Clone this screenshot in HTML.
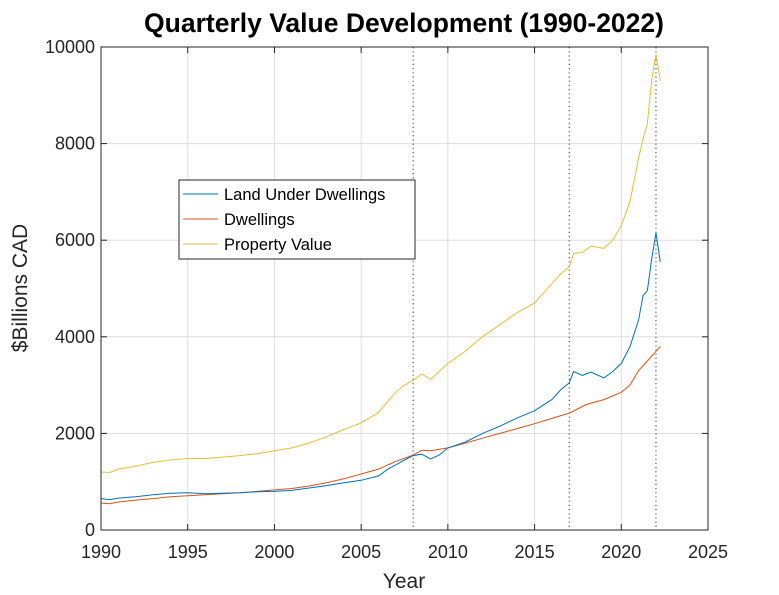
<!DOCTYPE html>
<html><head><meta charset="utf-8"><style>
html,body{margin:0;padding:0;background:#fff;}
svg{display:block;font-family:"Liberation Sans",Arial,sans-serif;}
</style></head><body>
<svg id="chart" width="779" height="595" viewBox="0 0 779 595">
<g id="grid"></g>
<g id="vlines"></g>
<g id="series"></g>
<rect x="101" y="47" width="607" height="483" fill="none" stroke="#262626" stroke-width="1"/>
<g id="ticks"></g>
<text x="404" y="32" text-anchor="middle" font-size="26.5" font-weight="bold" fill="#000">Quarterly Value Development (1990-2022)</text>
<text x="404" y="588" text-anchor="middle" font-size="21" fill="#262626">Year</text>
<text transform="translate(27,288) rotate(-90)" text-anchor="middle" font-size="21" fill="#262626">$Billions CAD</text>
<g>
<rect x="179" y="180" width="236" height="79" fill="#fff" stroke="#262626" stroke-width="1"/>
<line x1="183" y1="194" x2="218" y2="194" stroke="#0072BD"/>
<text x="224" y="200" font-size="16.5" fill="#000">Land Under Dwellings</text>
<line x1="183" y1="219" x2="218" y2="219" stroke="#D95319"/>
<text x="224" y="225" font-size="16.5" fill="#000">Dwellings</text>
<line x1="183" y1="244" x2="218" y2="244" stroke="#E8BE3A"/>
<text x="224" y="250" font-size="16.5" fill="#000">Property Value</text>
</g>
</svg>
<script>
const xTicks=[1990,1995,2000,2005,2010,2015,2020,2025];
const yTicks=[0,2000,4000,6000,8000,10000];
const eventYears=[2008,2017,2022];
const landYears=[1990,1990.5,1991,1992,1993,1994,1995,1996,1997,1998,1999,2000,2001,2002,2003,2004,2005,2006,2006.5,2007,2007.5,2008,2008.5,2009,2009.5,2010,2011,2012,2013,2014,2015,2016,2016.5,2017,2017.25,2017.75,2018.25,2019,2019.5,2020,2020.5,2021,2021.25,2021.5,2021.75,2022,2022.25];
const landValues=[650,630,660,690,730,760,770,750,760,770,790,800,820,870,920,980,1030,1120,1250,1350,1450,1540,1570,1470,1550,1700,1820,2000,2150,2320,2470,2700,2900,3050,3280,3200,3270,3150,3280,3450,3800,4350,4850,4950,5600,6150,5550];
const dwellYears=[1990,1990.5,1991,1992,1993,1994,1995,1996,1997,1998,1999,2000,2001,2002,2003,2004,2005,2006,2007,2008,2008.5,2009,2010,2011,2012,2013,2014,2015,2016,2017,2018,2019,2020,2020.5,2021,2021.5,2022,2022.25];
const dwellValues=[560,545,580,620,650,690,710,730,750,770,800,830,860,910,980,1060,1160,1260,1420,1550,1650,1640,1700,1800,1900,2000,2100,2200,2310,2420,2600,2700,2850,3000,3300,3500,3700,3800];
const propYears=landYears;
const propValues=[1200,1190,1260,1320,1400,1450,1480,1480,1510,1540,1580,1640,1700,1800,1930,2080,2220,2430,2650,2850,3000,3100,3230,3120,3280,3450,3700,4000,4250,4500,4700,5100,5300,5450,5730,5750,5880,5830,6000,6300,6800,7700,8100,8400,9300,9850,9300];
const NS="http://www.w3.org/2000/svg";
const X0=101,X1=708,Y0=530,Y1=47;
const sx=v=>X0+(v-1990)/(2025-1990)*(X1-X0);
const sy=v=>Y0-(v/10000)*(Y0-Y1);
function mk(t,a,p){const e=document.createElementNS(NS,t);for(const k in a)e.setAttribute(k,a[k]);p.appendChild(e);return e;}
const grid=document.getElementById('grid'),ticks=document.getElementById('ticks'),vl=document.getElementById('vlines'),ser=document.getElementById('series');
xTicks.forEach(t=>{
 const x=sx(t);
 const g=mk('line',{x1:x,x2:x,y1:Y1,y2:Y0,stroke:'#dedede'},grid);
 
 
 const tk=mk('line',{x1:x,x2:x,y1:Y0,y2:Y0-6,stroke:'#262626'},ticks);
 
 
 const tk2=mk('line',{x1:x,x2:x,y1:Y1,y2:Y1+6,stroke:'#262626'},ticks);
 
 
 const l=mk('text',{x:x,y:558,'text-anchor':'middle','font-size':18,fill:'#262626'},ticks);
 l.textContent=t;
 
 
});
yTicks.forEach(t=>{
 const y=sy(t);
 const g=mk('line',{x1:X0,x2:X1,y1:y,y2:y,stroke:'#dedede'},grid);
 
 
 const tk=mk('line',{x1:X0,x2:X0+6,y1:y,y2:y,stroke:'#262626'},ticks);
 
 
 const tk2=mk('line',{x1:X1,x2:X1-6,y1:y,y2:y,stroke:'#262626'},ticks);
 
 
 const l=mk('text',{x:X0-6,y:y+6,'text-anchor':'end','font-size':18,fill:'#262626'},ticks);
 l.textContent=t;
 
 
});
eventYears.forEach(t=>{
 const x=sx(t);
 const e=mk('line',{x1:x,x2:x,y1:Y1,y2:Y0,stroke:'#333','stroke-dasharray':'1.2 3'},vl);
 
 
});
function line(xs,ys,color,name){
 const d=xs.map((x,i)=>(i?'L':'M')+sx(x).toFixed(1)+' '+sy(ys[i]).toFixed(1)).join(' ');
 const p=mk('path',{d:d,fill:'none',stroke:color,'stroke-width':1},ser);
 
 
}
line(propYears,propValues,'#E8BE3A','property-value-line');
line(dwellYears,dwellValues,'#D95319','dwellings-line');
line(landYears,landValues,'#0072BD','land-under-dwellings-line');
</script>
</body></html>
